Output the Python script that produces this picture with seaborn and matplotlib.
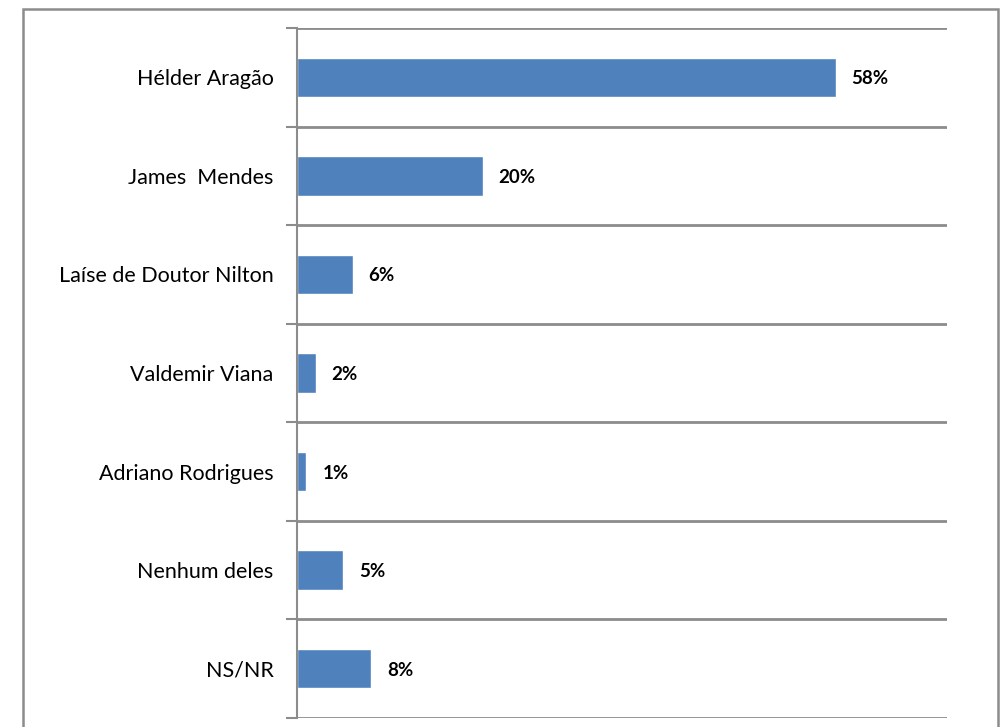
import matplotlib
matplotlib.use("Agg")
import matplotlib.pyplot as plt
from matplotlib.patches import Rectangle
from matplotlib.ticker import FixedLocator
import seaborn as sns
import pandas as pd

# chart data
candidates = ["Hélder Aragão", "James  Mendes", "Laíse de Doutor Nilton",
              "Valdemir Viana", "Adriano Rodrigues", "Nenhum deles", "NS/NR"]
shares = [58, 20, 6, 2, 1, 5, 8]

df = pd.DataFrame({"candidato": candidates, "pct": shares})

sns.set_theme(style="white")
plt.rcParams['font.family'] = ['Lato', 'DejaVu Sans']

fig = plt.figure(figsize=(10, 7.27), dpi=100)
ax = fig.add_axes([0.297, 1 - 718 / 727, 0.650, (718 - 28) / 727])

sns.barplot(data=df, x="pct", y="candidato", orient="h", color="#4F81BD",
            saturation=1, width=0.4, ax=ax)

ax.set_xlim(0, 70)
ax.set_ylim(len(candidates) - 0.5, -0.5)
ax.set_xlabel("")
ax.set_ylabel("")
ax.set_xticks([])

# category labels, no tick marks on the majors
ax.tick_params(axis="y", which="major", length=0, pad=17, labelsize=15.5, labelcolor="black")
# boundaries between categories: short ticks + gray gridlines
bounds = [i - 0.5 for i in range(len(candidates) + 1)]
ax.yaxis.set_minor_locator(FixedLocator(bounds))
ax.tick_params(axis="y", which="minor", length=8, width=1.5, color="#8c8c8c", left=True)
ax.grid(axis="y", which="minor", color="#8c8c8c", linewidth=2)
ax.grid(axis="y", which="major", visible=False)
ax.set_axisbelow(True)

for s in ["top", "right", "bottom"]:
    ax.spines[s].set_visible(False)
ax.spines["left"].set_color("#8c8c8c")
ax.spines["left"].set_linewidth(1.5)

# value labels
for i, v in enumerate(shares):
    ax.annotate(f"{v}%", (v, i), xytext=(11.5, 0), textcoords="offset points",
                ha="left", va="center_baseline", fontsize=13.5, fontweight="bold",
                color="black")

# outer border like the chart frame
fig.add_artist(Rectangle((0.023, -0.05), 0.975, 0.9876 + 0.05, transform=fig.transFigure,
                         fill=False, edgecolor="#8c8c8c", linewidth=1.8))

fig.savefig("out.png", dpi=100, facecolor="white")
